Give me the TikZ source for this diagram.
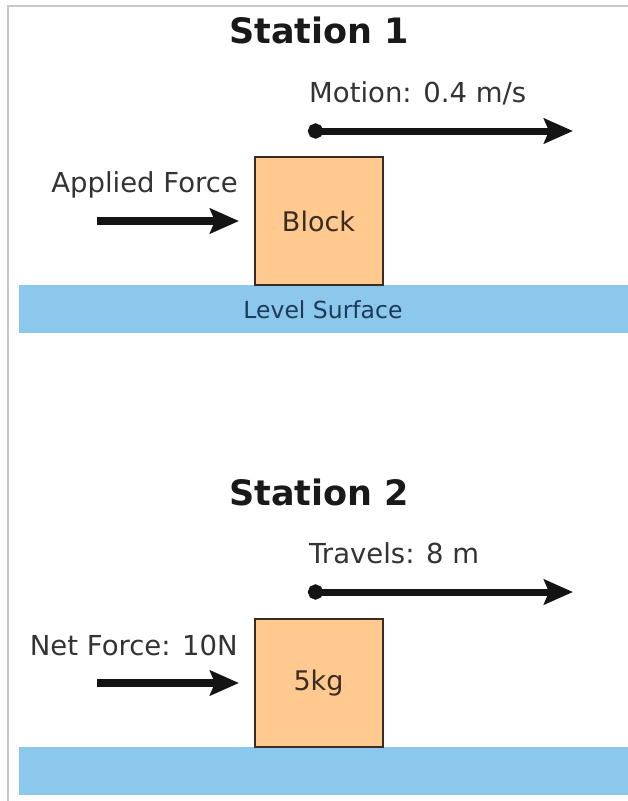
\documentclass[tikz,border=0pt]{standalone}
\usepackage{fontspec}
\setmainfont{DejaVu Sans}
\usetikzlibrary{arrows.meta}
\definecolor{blockfill}{HTML}{FFC98F}
\definecolor{blockline}{HTML}{3A2C22}
\definecolor{surf}{HTML}{8CC8EB}
\definecolor{surftext}{HTML}{1C3A5C}
\definecolor{labtext}{HTML}{333333}
\definecolor{framegrey}{HTML}{C8C8C8}
\tikzset{
  titletext/.style={font=\bfseries\fontsize{35}{40}\selectfont, text=black!90, inner sep=0pt, anchor=base},
  labeltext/.style={font=\fontsize{27.5}{31}\selectfont, text=labtext, inner sep=0pt},
  blockbox/.style={draw=blockline, line width=2pt, fill=blockfill, minimum width=128pt, minimum height=128pt, inner sep=0pt, font=\fontsize{27}{31}\selectfont, text=blockline},
  surfbar/.style={fill=surf, draw=none, minimum width=610pt, minimum height=48pt, inner sep=0pt},
  forcearrow/.style={line width=7.5pt, -{Stealth[length=29pt,width=25pt,inset=5pt]}, black!92},
  motionarrow/.style={line width=7pt, {Circle[length=15pt]}-{Stealth[length=29pt,width=25pt,inset=5pt]}, black!92},
}
\begin{document}
\begin{tikzpicture}[x=1pt,y=-1pt]
\useasboundingbox (0,0) rectangle (628,801);
% frame
\draw[framegrey, line width=2pt] (8,801) -- (8,6) -- (628,6);

% ---------- Station 1 ----------
\node[titletext] (t1) at (319,43) {Station 1};
\node[labeltext, anchor=base west] (m1) at (309,102) {Motion: 0.4 m/s};
\coordinate (m1s) at (308,131);
\coordinate (m1e) at (573,131);
\draw[motionarrow] (m1s) -- (m1e);
\node[surfbar, anchor=north west] (s1) at (19,285) {};
\node[font=\fontsize{23.5}{27}\selectfont, text=surftext, inner sep=0pt, anchor=base] (s1t) at (323,318) {Level Surface};
\node[blockbox] (b1) at (318.5,221) {Block};
\node[labeltext, anchor=base east] (f1) at (238,192) {Applied Force};
\coordinate (f1s) at (97,221);
\coordinate (f1e) at (239,221);
\draw[forcearrow] (f1s) -- (f1e);

% ---------- Station 2 ----------
\node[titletext] (t2) at (319,505) {Station 2};
\node[labeltext, anchor=base west] (m2) at (309,563) {Travels: 8 m};
\coordinate (m2s) at (308,592);
\coordinate (m2e) at (573,592);
\draw[motionarrow] (m2s) -- (m2e);
\node[surfbar, anchor=north west] (s2) at (19,747) {};
\node[blockbox] (b2) at (318.5,683) {5kg};
\node[labeltext, anchor=base east] (f2) at (238,655) {Net Force: 10N};
\coordinate (f2s) at (97,683);
\coordinate (f2e) at (239,683);
\draw[forcearrow] (f2s) -- (f2e);
\end{tikzpicture}
\end{document}
